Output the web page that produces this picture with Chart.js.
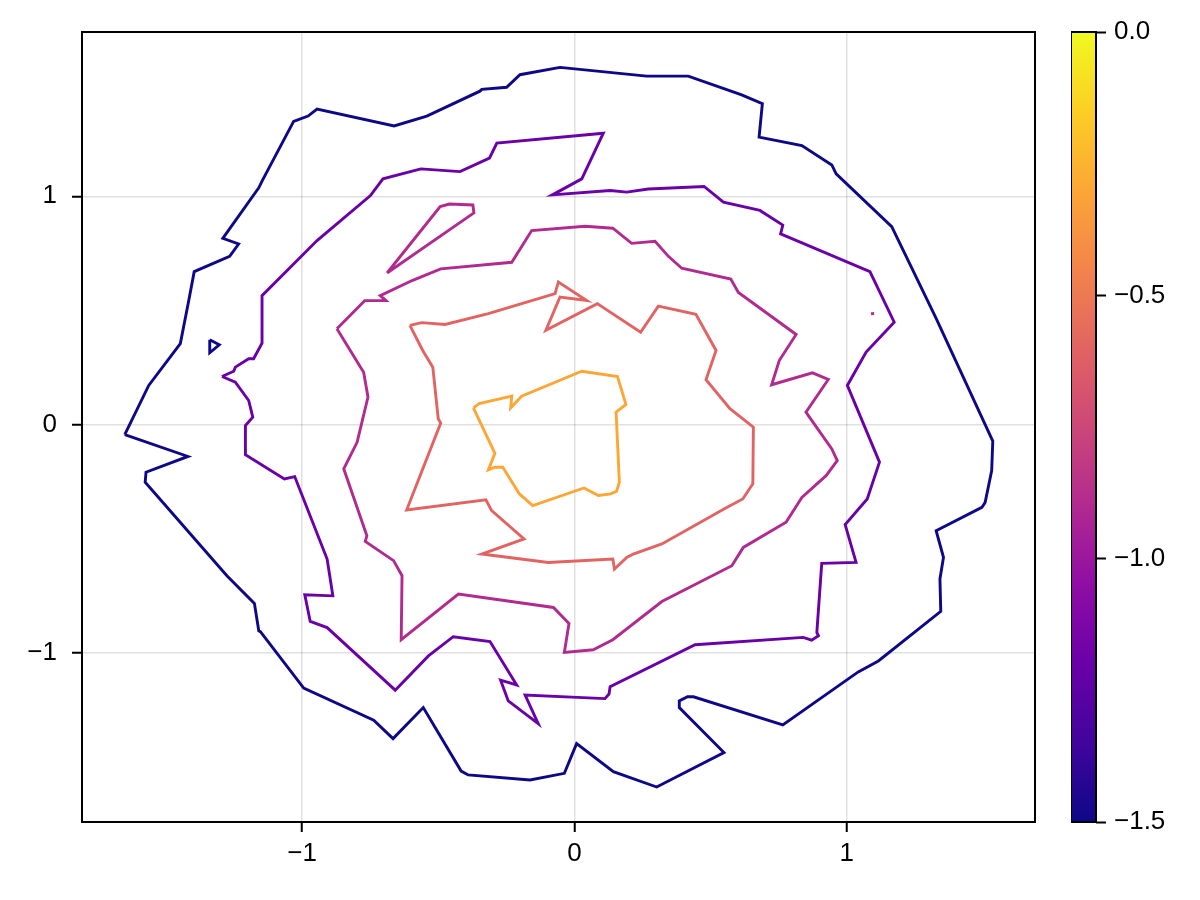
<!DOCTYPE html>
<html><head><meta charset="utf-8">
<script src="https://cdn.jsdelivr.net/npm/chart.js@4.4.0/dist/chart.umd.min.js"></script>
<style>
html,body{margin:0;padding:0;background:#fff;}
#wrap{position:relative;width:1200px;height:900px;background:#fff;}
#main{position:absolute;left:0;top:0;width:1200px;height:900px;}
#cbar{position:absolute;left:1071px;top:0;width:129px;height:900px;}
</style></head><body>
<div id="wrap"><canvas id="main" width="1200" height="900"></canvas><canvas id="cbar" width="129" height="900"></canvas></div>
<script>
// ---- data ----
const levels = [-1.5, -1.2, -0.9, -0.6, -0.3];
const xLimits = [-1.808, 1.691];
const yLimits = [-1.739, 1.719];
const xTicks = [-1, 0, 1];
const yTicks = [-1, 0, 1];
const cbRange = [-1.5, 0];
const cbTicks = [-1.5, -1.0, -0.5, 0.0];

// level -1.5
const c150a = [[-1.651,-0.043],[-1.563,0.172],[-1.447,0.355],[-1.416,0.544],[-1.396,0.670],[-1.266,0.737],[-1.233,0.791],[-1.291,0.816],[-1.159,1.037],[-1.147,1.066],[-1.031,1.328],[-0.978,1.351],[-0.945,1.382],[-0.662,1.308],[-0.542,1.351],[-0.347,1.460],[-0.340,1.468],[-0.249,1.477],[-0.200,1.532],[-0.053,1.564],[0.265,1.526],[0.418,1.526],[0.614,1.444],[0.690,1.405],[0.678,1.259],[0.835,1.222],[0.945,1.137],[0.961,1.098],[1.165,0.867],[1.328,0.465],[1.536,-0.072],[1.532,-0.201],[1.508,-0.340],[1.496,-0.362],[1.328,-0.464],[1.355,-0.581],[1.342,-0.675],[1.345,-0.817],[1.116,-1.034],[1.042,-1.082],[0.765,-1.314],[0.437,-1.191],[0.415,-1.191],[0.385,-1.209],[0.385,-1.238],[0.549,-1.435],[0.302,-1.586],[0.143,-1.519],[0.008,-1.396],[-0.037,-1.526],[-0.163,-1.555],[-0.390,-1.533],[-0.416,-1.516],[-0.555,-1.238],[-0.666,-1.374],[-0.737,-1.293],[-0.994,-1.153],[-1.153,-0.906],[-1.159,-0.902],[-1.175,-0.782],[-1.276,-0.661],[-1.576,-0.252],[-1.573,-0.208],[-1.419,-0.139],[-1.651,-0.043]];
const c150b = [[-1.339,0.372],[-1.304,0.350],[-1.339,0.315],[-1.339,0.372]];
// level -1.2
const c120 = [[-1.294,0.211],[-1.251,0.234],[-1.245,0.252],[-1.196,0.289],[-1.178,0.289],[-1.147,0.357],[-1.147,0.565],[-0.945,0.806],[-0.749,1.003],[-0.703,1.076],[-0.564,1.120],[-0.420,1.108],[-0.312,1.167],[-0.285,1.233],[0.106,1.276],[0.027,1.076],[-0.081,1.006],[0.131,1.025],[0.192,1.018],[0.271,1.032],[0.476,1.043],[0.547,0.974],[0.681,0.938],[0.765,0.874],[0.757,0.835],[1.085,0.670],[1.174,0.449],[1.071,0.318],[1.002,0.172],[1.120,-0.164],[1.075,-0.325],[0.994,-0.437],[1.034,-0.603],[0.908,-0.607],[0.890,-0.909],[0.896,-0.924],[0.871,-0.943],[0.840,-0.931],[0.443,-0.963],[0.131,-1.147],[0.127,-1.179],[0.112,-1.199],[-0.181,-1.183],[-0.133,-1.308],[-0.243,-1.209],[-0.271,-1.118],[-0.212,-1.139],[-0.310,-0.949],[-0.445,-0.928],[-0.536,-1.012],[-0.658,-1.162],[-0.908,-0.888],[-0.970,-0.861],[-0.990,-0.744],[-0.887,-0.749],[-0.908,-0.588],[-1.027,-0.227],[-1.065,-0.237],[-1.208,-0.131],[-1.208,-0.004],[-1.181,0.033],[-1.196,0.106],[-1.245,0.186],[-1.294,0.211]];
// level -0.9
const c090a = [[-0.872,0.420],[-0.770,0.543],[-0.692,0.543],[-0.713,0.565],[-0.596,0.631],[-0.491,0.682],[-0.230,0.711],[-0.157,0.850],[0.039,0.869],[0.141,0.860],[0.210,0.794],[0.296,0.803],[0.345,0.737],[0.394,0.685],[0.574,0.638],[0.602,0.579],[0.814,0.395],[0.752,0.281],[0.724,0.175],[0.874,0.227],[0.932,0.198],[0.850,0.055],[0.945,-0.106],[0.965,-0.157],[0.924,-0.223],[0.835,-0.318],[0.777,-0.427],[0.620,-0.537],[0.578,-0.617],[0.321,-0.774],[0.141,-0.941],[0.069,-0.985],[-0.037,-0.997],[-0.020,-0.870],[-0.077,-0.800],[-0.426,-0.741],[-0.636,-0.941],[-0.633,-0.661],[-0.664,-0.595],[-0.768,-0.511],[-0.762,-0.486],[-0.847,-0.193],[-0.798,-0.077],[-0.758,0.121],[-0.774,0.230],[-0.872,0.420]];
const c090b = [[-0.688,0.664],[-0.493,0.955],[-0.459,0.966],[-0.373,0.962],[-0.369,0.927],[-0.688,0.664]];
const c090c = [[1.093,0.492],[1.095,0.480]];
// level -0.6
const c060 = [[-0.604,0.435],[-0.561,0.447],[-0.475,0.439],[-0.316,0.486],[-0.071,0.574],[-0.059,0.625],[0.045,0.544],[-0.053,0.559],[-0.105,0.413],[0.084,0.530],[0.243,0.405],[0.308,0.519],[0.446,0.483],[0.520,0.325],[0.483,0.197],[0.571,0.070],[0.657,-0.011],[0.655,-0.259],[0.618,-0.325],[0.559,-0.362],[0.321,-0.522],[0.216,-0.566],[0.192,-0.581],[0.147,-0.632],[0.141,-0.588],[-0.096,-0.603],[-0.340,-0.566],[-0.185,-0.500],[-0.304,-0.376],[-0.325,-0.329],[-0.616,-0.373],[-0.491,0.007],[-0.500,0.026],[-0.520,0.252],[-0.557,0.325],[-0.604,0.435]];
// level -0.3
const c030 = [[-0.371,0.074],[-0.350,0.092],[-0.230,0.125],[-0.234,0.074],[-0.194,0.125],[0.027,0.234],[0.158,0.211],[0.189,0.089],[0.153,0.055],[0.165,-0.252],[0.155,-0.291],[0.133,-0.303],[0.088,-0.310],[0.035,-0.277],[-0.153,-0.354],[-0.202,-0.303],[-0.263,-0.186],[-0.292,-0.186],[-0.316,-0.198],[-0.292,-0.125],[-0.371,0.074]];

const pieces = [
  {level: -1.5, pts: c150a}, {level: -1.5, pts: c150b},
  {level: -1.2, pts: c120},
  {level: -0.9, pts: c090a}, {level: -0.9, pts: c090b}, {level: -0.9, pts: c090c},
  {level: -0.6, pts: c060},
  {level: -0.3, pts: c030}
];

// ---- styling ----
const plasmaStops = ['#0d0887','#41049d','#6a00a8','#8f0da4','#b12a90','#cc4778','#e16462','#f2844b','#fca636','#fcce25','#f0f921'];
function hex2rgb(h){return [parseInt(h.slice(1,3),16),parseInt(h.slice(3,5),16),parseInt(h.slice(5,7),16)];}
function plasma(t){
  t = Math.max(0, Math.min(1, t));
  const f = t * (plasmaStops.length - 1);
  const i = Math.min(Math.floor(f), plasmaStops.length - 2);
  const u = f - i;
  const a = hex2rgb(plasmaStops[i]), b = hex2rgb(plasmaStops[i+1]);
  const c = a.map((v,k)=>Math.round(v + (b[k]-v)*u));
  return 'rgb(' + c.join(',') + ')';
}
function levelColor(l){ return plasma((l - cbRange[0])/(cbRange[1]-cbRange[0])); }

const FONT = {family: "'Liberation Sans', 'Helvetica', Arial, sans-serif", size: 26};
const MINUS = '\u2212';
const fmtInt = v => (v < 0 ? MINUS : '') + Math.abs(v).toString();
const fmt1 = v => (v < -1e-9 ? MINUS : '') + Math.abs(v).toFixed(1);

const boxPlugin = {
  id: 'box',
  afterDraw(chart){
    const a = chart.chartArea, ctx = chart.ctx;
    ctx.save();
    ctx.strokeStyle = '#000';
    ctx.lineWidth = 2;
    ctx.strokeRect(a.left, a.top, a.right - a.left, a.bottom - a.top);
    ctx.restore();
  }
};

new Chart(document.getElementById('main'), {
  type: 'scatter',
  data: {
    datasets: pieces.map(p => ({
      data: p.pts.map(([x,y]) => ({x, y})),
      showLine: true,
      borderColor: levelColor(p.level),
      borderWidth: 2.9,
      pointRadius: 0,
      pointHoverRadius: 0,
      fill: false,
      tension: 0,
      borderJoinStyle: 'miter',
      borderCapStyle: 'butt'
    }))
  },
  options: {
    responsive: false,
    animation: false,
    devicePixelRatio: 1,
    events: [],
    layout: {padding: {left: 0, top: 32, right: 165, bottom: 0}},
    plugins: {legend: {display: false}, tooltip: {enabled: false}},
    scales: {
      x: {
        type: 'linear', min: xLimits[0], max: xLimits[1],
        afterFit: s => { s.height = 78; },
        afterBuildTicks: s => { s.ticks = xTicks.map(v => ({value: v})); },
        ticks: {callback: v => fmtInt(v), color: '#000', font: FONT, padding: 6, maxRotation: 0, autoSkip: false},
        grid: {color: 'rgba(0,0,0,0.12)', lineWidth: 1.5, drawTicks: true, tickLength: 10, tickColor: '#000', tickWidth: 2},
        border: {display: false}
      },
      y: {
        type: 'linear', min: yLimits[0], max: yLimits[1],
        afterFit: s => { s.width = 82; },
        afterBuildTicks: s => { s.ticks = yTicks.map(v => ({value: v})); },
        ticks: {callback: v => fmtInt(v), color: '#000', font: FONT, padding: 15, autoSkip: false},
        grid: {color: 'rgba(0,0,0,0.12)', lineWidth: 1.5, drawTicks: true, tickLength: 10, tickColor: '#000', tickWidth: 2},
        border: {display: false}
      }
    }
  },
  plugins: [boxPlugin]
});

new Chart(document.getElementById('cbar'), {
  type: 'bar',
  data: {
    labels: [''],
    datasets: [{
      data: [cbRange],
      borderWidth: 0,
      barPercentage: 1,
      categoryPercentage: 1,
      backgroundColor: ctx => {
        const area = ctx.chart.chartArea;
        if (!area) return levelColor(-0.75);
        const g = ctx.chart.ctx.createLinearGradient(0, area.bottom, 0, area.top);
        plasmaStops.forEach((c, i) => g.addColorStop(i/(plasmaStops.length-1), c));
        return g;
      }
    }]
  },
  options: {
    responsive: false,
    animation: false,
    devicePixelRatio: 1,
    events: [],
    layout: {padding: {left: 0, top: 32, right: 0, bottom: 78}},
    plugins: {legend: {display: false}, tooltip: {enabled: false}},
    scales: {
      x: {display: false},
      y: {
        position: 'right', min: cbRange[0], max: cbRange[1],
        afterFit: s => { s.width = 104; },
        afterBuildTicks: s => { s.ticks = cbTicks.map(v => ({value: v})); },
        ticks: {callback: v => fmt1(v), color: '#000', font: FONT, padding: 8, autoSkip: false},
        grid: {drawOnChartArea: false, drawTicks: true, tickLength: 10, tickColor: '#000', tickWidth: 2},
        border: {display: false}
      }
    }
  },
  plugins: [boxPlugin]
});
</script>
</body></html>
